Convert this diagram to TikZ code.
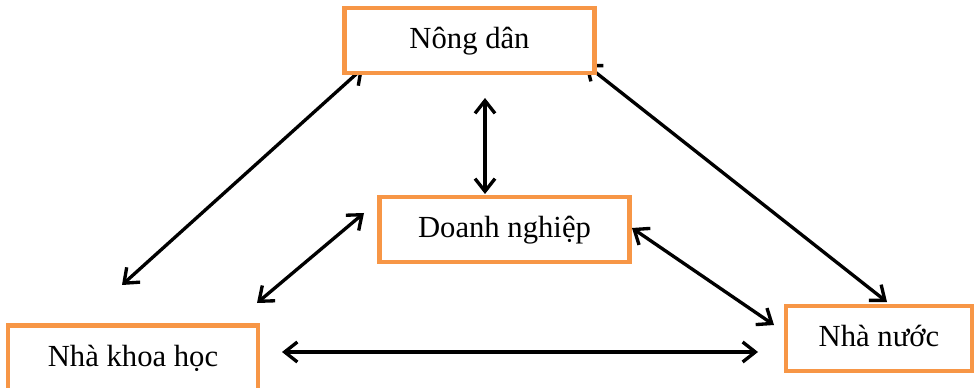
\documentclass[tikz,border=0pt]{standalone}
\usepackage{fontspec}
\setmainfont{Liberation Serif}
\usetikzlibrary{arrows.meta}
\pgfdeclarelayer{background}
\pgfsetlayers{background,main}
\definecolor{boxorange}{RGB}{247,150,70}
\tikzset{
  box/.style={draw=boxorange, line width=3.4pt, fill=white, minimum height=48.75pt, inner sep=0pt, text height=12.5pt, text depth=0pt, font=\fontsize{23}{27}\selectfont},
  link/.style={line width=2.5pt, {Straight Barb[length=9.5pt,width=15pt,line width=2.5pt]}-{Straight Barb[length=9.5pt,width=15pt,line width=2.5pt]}}
}
\begin{document}
\begin{tikzpicture}[x=0.75pt,y=-0.75pt]
\useasboundingbox (0,0) rectangle (974,388);
\node[box, minimum width=187.5pt] (nd) at (469.5,40.5) {Nông dân};
\node[box, minimum width=187.5pt] (dn) at (504.5,229.5) {Doanh nghiệp};
\node[box, minimum width=187.5pt] (kh) at (133,358) {Nhà khoa học};
\node[box, minimum width=139.5pt] (nn) at (879,338.5) {Nhà nước};
\coordinate (a1) at (363,68);
\coordinate (a2) at (122,285);
\coordinate (b1) at (485,98);
\coordinate (b2) at (485,194);
\coordinate (c1) at (585,64);
\coordinate (c2) at (887,302);
\coordinate (d1) at (364,213);
\coordinate (d2) at (257,303);
\coordinate (e1) at (632,228);
\coordinate (e2) at (774,325);
\coordinate (f1) at (282,352);
\coordinate (f2) at (758,352);
\begin{pgfonlayer}{background}
\draw[link] (a1) -- (a2);
\draw[link] (b1) -- (b2);
\draw[link] (c1) -- (c2);
\draw[link] (d1) -- (d2);
\draw[link] (e1) -- (e2);
\draw[link] (f1) -- (f2);
\end{pgfonlayer}
\end{tikzpicture}
\end{document}
